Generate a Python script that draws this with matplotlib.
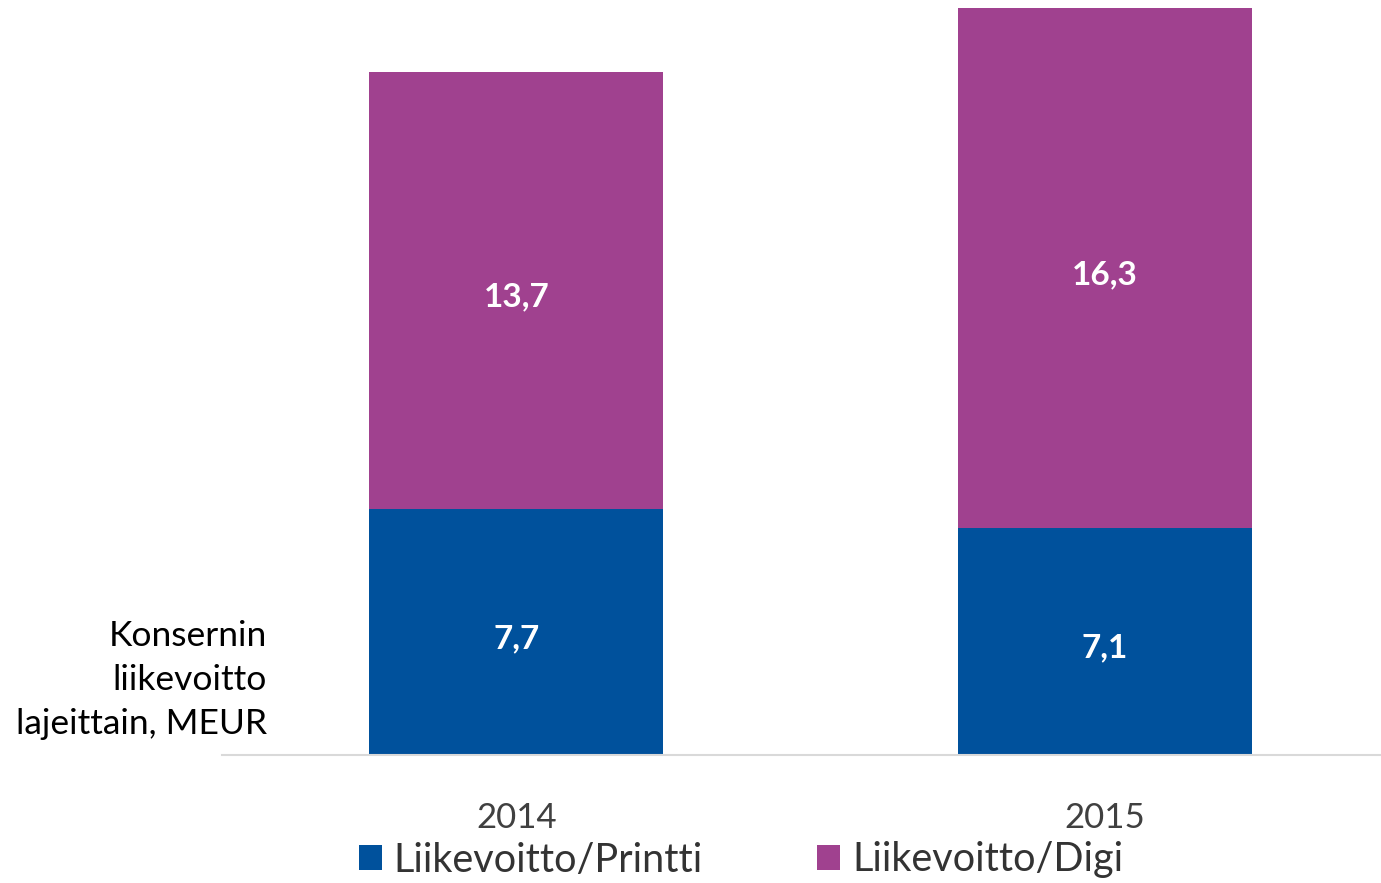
import matplotlib.pyplot as plt
import numpy as np

plt.rcParams['font.family'] = ['Lato', 'DejaVu Sans']

years = ['2014', '2015']
printti = [7.7, 7.1]
digi = [13.7, 16.3]
labels = ['Liikevoitto/Printti', 'Liikevoitto/Digi']
colors = ['#00519C', '#A0418F']

fig = plt.figure(figsize=(13.81, 8.83), dpi=100)
ax = fig.add_axes([222 / 1381, 128 / 883, 1 - 222 / 1381, 755 / 883])

x = np.arange(len(years))
b1 = ax.bar(x, printti, width=0.5, color=colors[0], label=labels[0])
b2 = ax.bar(x, digi, width=0.5, bottom=printti, color=colors[1], label=labels[1])

# value labels in the middle of each segment
for i in range(len(years)):
    ax.text(x[i], printti[i] / 2 - 0.2, f'{printti[i]:.1f}'.replace('.', ','),
            ha='center', va='center', color='white', fontsize=24, fontweight='bold')
    ax.text(x[i], printti[i] + digi[i] / 2 - 0.2, f'{digi[i]:.1f}'.replace('.', ','),
            ha='center', va='center', color='white', fontsize=24, fontweight='bold')

ax.set_xlim(-0.5, 1.469)
ax.set_ylim(0, 23.66)
ax.set_xticks(x)
ax.set_xticklabels(years, fontsize=25, color='#404040')
ax.tick_params(axis='x', length=0, pad=34)
ax.set_yticks([])
for s in ['top', 'right', 'left']:
    ax.spines[s].set_visible(False)
ax.spines['bottom'].set_color('#d9d9d9')
ax.spines['bottom'].set_linewidth(1.5)

fig.text(267 / 1381, 1 - 680 / 883, 'Konsernin\nliikevoitto\nlajeittain, MEUR',
         ha='right', va='center', fontsize=25.5, color='black', linespacing=1.45)

fig.legend(handles=[b1, b2], loc='center', bbox_to_anchor=(741 / 1381, 1 - 860 / 883),
           ncol=2, frameon=False, fontsize=28.5, labelcolor='#333333',
           handlelength=0.58, handleheight=0.58, handletextpad=0.3, columnspacing=2.9)

fig.savefig('out.png', dpi=100)
